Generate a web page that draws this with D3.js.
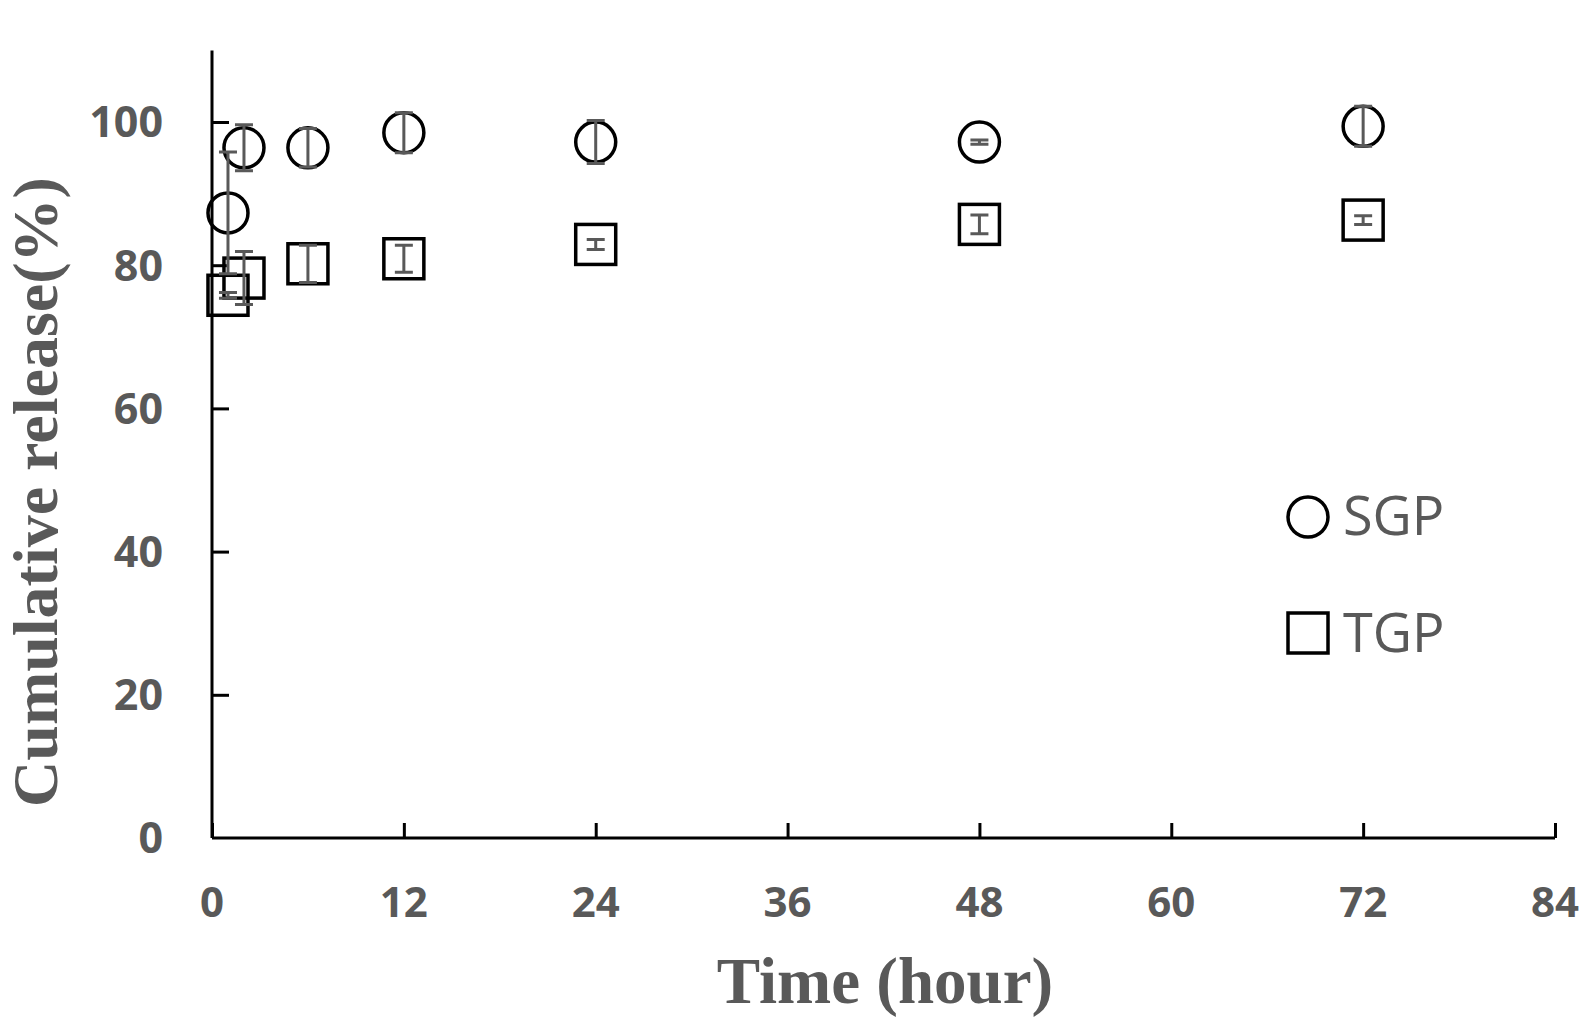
<!DOCTYPE html>
<html>
<head>
<meta charset="utf-8">
<script src="https://cdn.jsdelivr.net/npm/d3@7"></script>
<style>
  html, body { margin: 0; padding: 0; background: #fff; }
  svg { display: block; }
</style>
</head>
<body>
<svg id="chart" width="1589" height="1017"></svg>
<script>
// ---- data ----
const times = [1, 2, 6, 12, 24, 48, 72];
const sgpValues = [87.3, 96.4, 96.4, 98.5, 97.2, 97.2, 99.4];
const sgpErrors = [8.5, 3.2, 2.7, 2.8, 3.0, 0.3, 2.8];
const tgpValues = [75.8, 78.2, 80.2, 80.9, 82.9, 85.7, 86.3];
const tgpErrors = [0.4, 3.7, 2.6, 1.9, 0.7, 1.3, 0.6];
const xTicks = [0, 12, 24, 36, 48, 60, 72, 84];
const yTicks = [0, 20, 40, 60, 80, 100];
const seriesNames = ["SGP", "TGP"];
const xTitle = "Time (hour)";
const yTitle = "Cumulative release(%)";

// ---- layout ----
const svg = d3.select("#chart");
const x = d3.scaleLinear().domain([0, 84]).range([212, 1555]);
const y = d3.scaleLinear().domain([0, 100]).range([838, 122]);
const textColor = "#595959";
const barColor = "#595959";

// axes lines
const g = svg.append("g");
const xAxis = d3.axisBottom(x).tickValues(xTicks).tickSize(-15).tickFormat("");
const yAxis = d3.axisLeft(y).tickValues(yTicks).tickSize(-17).tickFormat("");

g.append("g").attr("transform", `translate(0,${y(0)})`).call(xAxis)
  .call(s => s.select(".domain").attr("d", `M${x(0)},0H${x(84)}`))
  .call(s => s.selectAll("line, path").attr("stroke", "#000").attr("stroke-width", 3));

g.append("g").attr("transform", `translate(${x(0)},0)`).call(yAxis)
  .call(s => s.select(".domain").attr("d", `M0,${y(0)}V${y(110)}`))
  .call(s => s.selectAll("line, path").attr("stroke", "#000").attr("stroke-width", 3))
  .call(s => s.selectAll(".tick").filter(d => d === 0).select("line").remove());

// tick labels
svg.append("g").selectAll("text").data(xTicks).join("text")
  .attr("x", d => x(d)).attr("y", 917)
  .attr("text-anchor", "middle")
  .attr("font-family", "'Open Sans', sans-serif").attr("font-weight", "bold")
  .attr("font-size", 42).attr("fill", textColor)
  .text(d => d);

svg.append("g").selectAll("text").data(yTicks).join("text")
  .attr("x", 163).attr("y", d => y(d))
  .attr("dy", "0.36em")
  .attr("text-anchor", "end")
  .attr("font-family", "'Open Sans', sans-serif").attr("font-weight", "bold")
  .attr("font-size", 43).attr("fill", textColor)
  .text(d => d);

// axis titles
svg.append("text")
  .attr("x", 885).attr("y", 1003)
  .attr("text-anchor", "middle")
  .attr("font-family", "'Liberation Serif', 'Times New Roman', serif").attr("font-weight", "bold")
  .attr("font-size", 65).attr("fill", textColor)
  .text(xTitle);

svg.append("text")
  .attr("transform", `translate(57,492) rotate(-90)`)
  .attr("text-anchor", "middle")
  .attr("font-family", "'Liberation Serif', 'Times New Roman', serif").attr("font-weight", "bold")
  .attr("font-size", 64).attr("fill", textColor)
  .text(yTitle);

// markers
const sgp = times.map((t, i) => ({ t, v: sgpValues[i], e: sgpErrors[i] }));
const tgp = times.map((t, i) => ({ t, v: tgpValues[i], e: tgpErrors[i] }));

const circleR = 20;
const squareS = 40;

svg.append("g").selectAll("rect").data(tgp).join("rect")
  .attr("x", d => x(d.t) - squareS / 2).attr("y", d => y(d.v) - squareS / 2)
  .attr("width", squareS).attr("height", squareS)
  .attr("fill", "none").attr("stroke", "#000").attr("stroke-width", 3.5);

svg.append("g").selectAll("circle").data(sgp).join("circle")
  .attr("cx", d => x(d.t)).attr("cy", d => y(d.v)).attr("r", circleR)
  .attr("fill", "none").attr("stroke", "#000").attr("stroke-width", 3.5);

// error bars
function errorBars(data) {
  const eg = svg.append("g").attr("stroke", barColor).attr("stroke-width", 3).attr("fill", "none");
  const capW = 9;
  eg.selectAll("path").data(data).join("path")
    .attr("d", d => {
      const cx = x(d.t), y1 = y(d.v + d.e), y2 = y(d.v - d.e);
      return `M${cx},${y1}V${y2}M${cx - capW},${y1}H${cx + capW}M${cx - capW},${y2}H${cx + capW}`;
    });
}
errorBars(tgp);
errorBars(sgp);

// legend
const lg = svg.append("g");
lg.append("circle").attr("cx", 1308).attr("cy", 517).attr("r", circleR)
  .attr("fill", "none").attr("stroke", "#000").attr("stroke-width", 3.5);
lg.append("rect").attr("x", 1308 - squareS / 2).attr("y", 633 - squareS / 2)
  .attr("width", squareS).attr("height", squareS)
  .attr("fill", "none").attr("stroke", "#000").attr("stroke-width", 3.5);
lg.selectAll("text").data(seriesNames).join("text")
  .attr("x", 1343).attr("y", (d, i) => i === 0 ? 535 : 652)
  .attr("font-family", "'Open Sans', sans-serif")
  .attr("font-size", 54).attr("fill", textColor)
  .text(d => d);
</script>
</body>
</html>
